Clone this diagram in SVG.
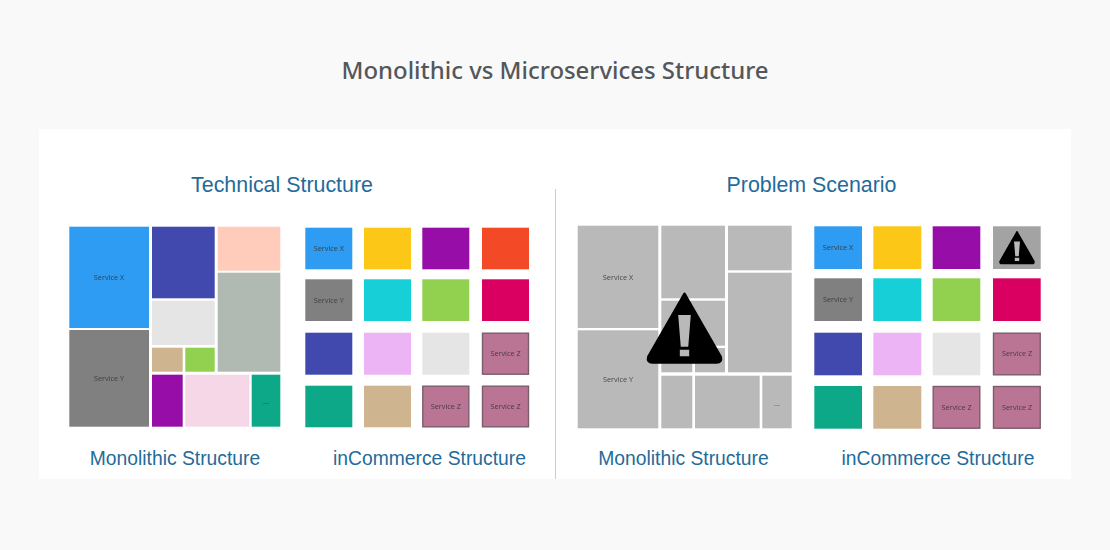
<svg xmlns="http://www.w3.org/2000/svg" width="1110" height="550" viewBox="0 0 1110 550">
<style>
.h{font-family:"Liberation Sans",Arial,sans-serif;fill:#1f6b9a;text-anchor:middle}
.h1{font-size:21.4px}
.h2{font-size:19.3px}
.s{font-family:"Open Sans","Noto Sans",sans-serif;font-size:7.300px;fill:#333;fill-opacity:.85;text-anchor:middle}
.t{font-family:"Noto Sans","Open Sans",sans-serif;font-size:24px;font-weight:500;fill:#54575a;text-anchor:middle}
.g{fill:#b9b9b9}
.z{fill:#ba7595;stroke:#7a5c6c;stroke-width:1.4}
.b{filter:url(#soft)}
</style>
<defs>
<filter id="soft" x="-2%" y="-2%" width="104%" height="104%"><feGaussianBlur stdDeviation="0.3"/></filter>
<g id="warn"><path d="M0-27 L27 20 Q28 24 24 24 L-24 24 Q-28 24 -27 20 Z" fill="#000" stroke="#000" stroke-width="2" stroke-linejoin="round"/><path d="M-4.700-11.300 H4.700 L2.800 12.300 H-2.800 Z M-3.500 14.500 H3.500 V19.500 H-3.500 Z" fill="#b9b9b9"/></g>
</defs>
<rect width="1110" height="550" fill="#f9f9f9"/>
<rect x="39" y="129" width="1032" height="350" fill="#fff"/>
<text class="t" x="555" y="79" textLength="427" lengthAdjust="spacingAndGlyphs">Monolithic vs Microservices Structure</text>
<line x1="555.500" y1="189" x2="555.500" y2="479" stroke="#ccc" stroke-width="1"/>
<text class="h h1" x="282" y="192">Technical Structure</text>
<text class="h h1" x="811.500" y="192">Problem Scenario</text>
<text class="h h2" x="175" y="465">Monolithic Structure</text>
<text class="h h2" x="429.500" y="465">inCommerce Structure</text>
<text class="h h2" x="683.500" y="465">Monolithic Structure</text>
<text class="h h2" x="938" y="465">inCommerce Structure</text>

<g id="mono-tech" class="b">
<rect x="69.300" y="226.700" width="79.700" height="101.300" fill="#2d9cf2"/>
<rect x="69.300" y="330" width="79.700" height="96.700" fill="#808080"/>
<rect x="152" y="226.700" width="62.700" height="71.600" fill="#434aae"/>
<rect x="217.700" y="226.700" width="62.600" height="44" fill="#ffccbc"/>
<rect x="217.700" y="272.700" width="62.600" height="99" fill="#b0b9b2"/>
<rect x="152" y="300.700" width="62.700" height="44.300" fill="#e5e5e5"/>
<rect x="152" y="347.700" width="30.700" height="24" fill="#cfb58f"/>
<rect x="185.300" y="347.700" width="29.400" height="24" fill="#92d14f"/>
<rect x="152" y="374.700" width="30.700" height="52" fill="#960ea8"/>
<rect x="185.300" y="374.700" width="64" height="52" fill="#f6d7e7"/>
<rect x="251.700" y="374.700" width="28.600" height="52" fill="#0ca887"/>
<text class="s" x="109" y="280">Service X</text>
<text class="s" x="109" y="381">Service Y</text>
<text class="s" x="266" y="404">...</text>
</g>

<g id="micro-tech" class="b">
<rect x="305.300" y="227.700" width="47" height="41.600" fill="#2d9cf2"/>
<rect x="364" y="227.700" width="47" height="41.600" fill="#fcc712"/>
<rect x="422.300" y="227.700" width="47" height="41.600" fill="#960ea8"/>
<rect x="482" y="227.700" width="47" height="41.600" fill="#f44a27"/>
<rect x="305.300" y="279.300" width="47" height="41.700" fill="#808080"/>
<rect x="364" y="279.300" width="47" height="41.700" fill="#12cfd7"/>
<rect x="422.300" y="279.300" width="47" height="41.700" fill="#92d14f"/>
<rect x="482" y="279.300" width="47" height="41.700" fill="#d90062"/>
<rect x="305.300" y="332.700" width="47" height="42" fill="#434aae"/>
<rect x="364" y="332.700" width="47" height="42" fill="#ecb4f5"/>
<rect x="422.300" y="332.700" width="47" height="42" fill="#e5e5e5"/>
<rect class="z" x="482.500" y="333.200" width="46" height="41"/>
<rect x="305.300" y="385.700" width="47" height="41.600" fill="#0ca887"/>
<rect x="364" y="385.700" width="47" height="41.600" fill="#cfb58f"/>
<rect class="z" x="422.800" y="386.200" width="46" height="40.600"/>
<rect class="z" x="482.500" y="386.200" width="46" height="40.600"/>
<text class="s" x="328.800" y="251">Service X</text>
<text class="s" x="328.800" y="302.500">Service Y</text>
<text class="s" x="505.500" y="356">Service Z</text>
<text class="s" x="445.800" y="409">Service Z</text>
<text class="s" x="505.500" y="409">Service Z</text>
</g>

<g id="mono-problem" class="b">
<rect class="g" x="577.700" y="225.700" width="80.600" height="102.300"/>
<rect class="g" x="577.700" y="330.300" width="80.600" height="98"/>
<rect class="g" x="661.300" y="225.700" width="63.700" height="72.600"/>
<rect class="g" x="661.300" y="300.700" width="63.700" height="45"/>
<rect class="g" x="661.300" y="348" width="31" height="24.300"/>
<rect class="g" x="695" y="348" width="30" height="24.300"/>
<rect class="g" x="728" y="225.700" width="63.700" height="44.600"/>
<rect class="g" x="728" y="272.700" width="63.700" height="99.600"/>
<rect class="g" x="661.300" y="375.700" width="31" height="52.600"/>
<rect class="g" x="695" y="375.700" width="64.700" height="52.600"/>
<rect class="g" x="762.300" y="375.700" width="29.400" height="52.600"/>
<text class="s" x="618" y="280">Service X</text>
<text class="s" x="618" y="382">Service Y</text>
<text class="s" x="777" y="406">...</text>
<use href="#warn" transform="translate(684.500 330.200) scale(1.340)"/>
</g>

<g id="micro-problem" class="b">
<rect x="814.300" y="226.300" width="47.700" height="42.700" fill="#2d9cf2"/>
<rect x="873.300" y="226.300" width="48" height="42.700" fill="#fcc712"/>
<rect x="932.700" y="226.300" width="47.600" height="42.700" fill="#960ea8"/>
<rect x="993" y="226.300" width="47.700" height="42.700" fill="#a3a3a3"/>
<rect x="814.300" y="278.300" width="47.700" height="42.700" fill="#808080"/>
<rect x="873.300" y="278.300" width="48" height="42.700" fill="#12cfd7"/>
<rect x="932.700" y="278.300" width="47.600" height="42.700" fill="#92d14f"/>
<rect x="993" y="278.300" width="47.700" height="42.700" fill="#d90062"/>
<rect x="814.300" y="332.700" width="47.700" height="42.600" fill="#434aae"/>
<rect x="873.300" y="332.700" width="48" height="42.600" fill="#ecb4f5"/>
<rect x="932.700" y="332.700" width="47.600" height="42.600" fill="#e5e5e5"/>
<rect class="z" x="993.500" y="333.200" width="46.700" height="41.600"/>
<rect x="814.300" y="386" width="47.700" height="42.700" fill="#0ca887"/>
<rect x="873.300" y="386" width="48" height="42.700" fill="#cfb58f"/>
<rect class="z" x="933.200" y="386.500" width="46.600" height="41.700"/>
<rect class="z" x="993.500" y="386.500" width="46.700" height="41.700"/>
<text class="s" x="838" y="250">Service X</text>
<text class="s" x="838" y="302">Service Y</text>
<text class="s" x="1017" y="356">Service Z</text>
<text class="s" x="956.500" y="410">Service Z</text>
<text class="s" x="1017" y="410">Service Z</text>
<use href="#warn" transform="translate(1017 248.600) scale(0.630)"/>
</g>
</svg>
